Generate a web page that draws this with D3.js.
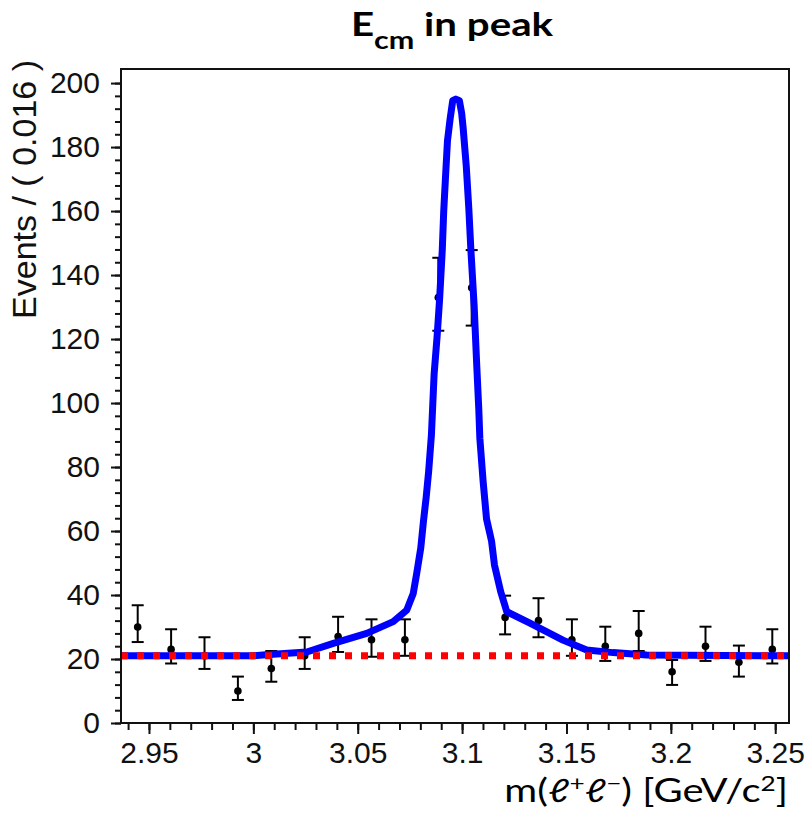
<!DOCTYPE html>
<html>
<head>
<meta charset="utf-8">
<script src="https://cdn.jsdelivr.net/npm/d3@7"></script>
<style>
  body { margin: 0; background: #fff; }
  .axis text { font-family: "Liberation Sans", Arial, sans-serif; font-size: 30px; fill: #111; }
  .axis line { stroke: #111; stroke-width: 2; }
  .axis path { display: none; }
</style>
</head>
<body>
<svg id="chart"></svg>
<script>
// binned data (bin width 0.016 GeV)
const binCenters = [2.9446, 2.9606, 2.9766, 2.9926, 3.0086, 3.0246, 3.0406, 3.0566, 3.0726, 3.0886,
                    3.1046, 3.1206, 3.1366, 3.1526, 3.1686, 3.1846, 3.2006, 3.2166, 3.2326, 3.2486];
const counts   = [30, 23, 21, 10, 17, 21, 27, 26, 26, 133, 136, 33, 32, 26, 24, 28, 16, 24, 19, 23];
const barLow   = [25.3, 18.6, 16.9, 7.2, 12.9, 16.9, 22.2, 20.7, 21.0, 122.6,
                  124.2, 27.7, 26.8, 21.0, 19.4, 22.5, 11.9, 19.4, 14.5, 18.6];
const barHigh  = [36.8, 29.3, 26.8, 14.5, 22.5, 26.8, 33.2, 32.4, 32.4, 145.4,
                  147.8, 39.8, 39.0, 32.4, 30.1, 35.0, 19.7, 30.1, 24.2, 29.3];

// total fit curve (signal + background)
const curveMass = [2.9366, 3.0000, 3.0060, 3.0256, 3.0383, 3.0543, 3.0670, 3.0735, 3.0766, 3.0783,
                   3.0802, 3.0815, 3.0828, 3.0840, 3.0853, 3.0866, 3.0880, 3.0892, 3.0905, 3.0912,
                   3.0920, 3.0930, 3.0943, 3.0955, 3.0970, 3.0987, 3.0998, 3.1005, 3.1020, 3.1032,
                   3.1042, 3.1058, 3.1070, 3.1080, 3.1085, 3.1101, 3.1117, 3.1141, 3.1155, 3.1185,
                   3.1214, 3.1325, 3.1483, 3.1597, 3.1723, 3.1884, 3.2566];
const curveEvents = [21.0, 21.0, 21.3, 22.2, 24.9, 28.0, 31.7, 35.3, 40.5, 46.9,
                     54.7, 63.1, 70.6, 78.8, 90.0, 109.1, 120.6, 132.2, 147.8, 160.0,
                     170.0, 182.0, 189.0, 194.5, 195.0, 194.5, 190.5, 186.0, 174.0, 161.0,
                     148.0, 130.0, 112.0, 98.0, 89.0, 75.3, 63.8, 56.9, 49.4, 41.0,
                     34.8, 31.2, 25.9, 22.8, 22.0, 21.25, 21.0];

// flat background component
const bkgMass = [2.9366, 3.2566];
const bkgEvents = [21.0, 21.0];

const xMajorTicks = [2.95, 3.0, 3.05, 3.1, 3.15, 3.2, 3.25];
const xTickLabels = ["2.95", "3", "3.05", "3.1", "3.15", "3.2", "3.25"];
const yMajorTicks = [0, 20, 40, 60, 80, 100, 120, 140, 160, 180, 200];

const width = 807, height = 826;
const margin = { top: 69, right: 18, bottom: 103, left: 121 };
const innerW = width - margin.left - margin.right;
const innerH = height - margin.top - margin.bottom;

const svg = d3.select("#chart").attr("width", width).attr("height", height);
const chart = svg.append("g").attr("transform", `translate(${margin.left},${margin.top})`);

const x = d3.scaleLinear().domain([2.9366, 3.2566]).range([0, innerW]);
const y = d3.scaleLinear().domain([0, 204.4]).range([innerH, 0]);

// axes: major + minor ticks, outside the frame
chart.append("g").attr("class", "axis")
  .call(d3.axisLeft(y).tickValues(d3.range(0, 204, 4)).tickSize(6).tickFormat(""));
chart.append("g").attr("class", "axis")
  .call(d3.axisLeft(y).tickValues(yMajorTicks).tickSize(10).tickPadding(11).tickFormat(d3.format("d")));

chart.append("g").attr("class", "axis").attr("transform", `translate(0,${innerH})`)
  .call(d3.axisBottom(x).tickValues(d3.range(2.94, 3.257, 0.01)).tickSize(7).tickFormat(""));
chart.append("g").attr("class", "axis").attr("transform", `translate(0,${innerH})`)
  .call(d3.axisBottom(x).tickValues(xMajorTicks).tickSize(11).tickPadding(8)
    .tickFormat((d, i) => xTickLabels[i]));

// data points with error bars
const pts = binCenters.map((m, i) => ({ m, n: counts[i], lo: barLow[i], hi: barHigh[i] }));
const pg = chart.append("g");
pg.selectAll(".err").data(pts).join("line")
  .attr("x1", d => x(d.m)).attr("x2", d => x(d.m))
  .attr("y1", d => y(d.lo)).attr("y2", d => y(d.hi))
  .attr("stroke", "#000").attr("stroke-width", 2);
pg.selectAll(".capTop").data(pts).join("line")
  .attr("x1", d => x(d.m) - 6).attr("x2", d => x(d.m) + 6)
  .attr("y1", d => y(d.hi)).attr("y2", d => y(d.hi))
  .attr("stroke", "#000").attr("stroke-width", 2);
pg.selectAll(".capBot").data(pts).join("line")
  .attr("x1", d => x(d.m) - 6).attr("x2", d => x(d.m) + 6)
  .attr("y1", d => y(d.lo)).attr("y2", d => y(d.lo))
  .attr("stroke", "#000").attr("stroke-width", 2);
pg.selectAll("circle").data(pts).join("circle")
  .attr("cx", d => x(d.m)).attr("cy", d => y(d.n)).attr("r", 3.8).attr("fill", "#000");

// fit curves
const line = d3.line().x(d => x(d[0])).y(d => y(d[1]));
chart.append("path")
  .datum(curveMass.map((m, i) => [m, curveEvents[i]]))
  .attr("d", line)
  .attr("fill", "none").attr("stroke", "#0000ff").attr("stroke-width", 7)
  .attr("stroke-linejoin", "round");
chart.append("path")
  .datum(bkgMass.map((m, i) => [m, bkgEvents[i]]))
  .attr("d", line)
  .attr("fill", "none").attr("stroke", "#ff0000").attr("stroke-width", 7)
  .attr("stroke-dasharray", "7,9");

// frame
chart.append("rect").attr("width", innerW).attr("height", innerH)
  .attr("fill", "none").attr("stroke", "#111").attr("stroke-width", 2);

// y axis title
svg.append("text")
  .attr("transform", "translate(36,60) rotate(-90)")
  .attr("text-anchor", "end")
  .style("font-family", "'Liberation Sans', Arial, sans-serif")
  .style("font-size", "34px")
  .attr("fill", "#111")
  .text("Events / ( 0.016 )");

// title (slide text is wider than Lato, so stretch it a bit)
const title = svg.append("text")
  .attr("transform", "translate(452,36) scale(1.22,1)")
  .attr("text-anchor", "middle")
  .style("font-family", "Lato, 'Noto Sans', sans-serif")
  .style("font-weight", "bold")
  .style("font-size", "33px");
title.append("tspan").text("E");
title.append("tspan").attr("dy", 13).style("font-size", "25px").text("cm");
title.append("tspan").attr("dy", -13).text(" in peak");

// x axis title
const xt = svg.append("text")
  .attr("transform", "translate(788,802) scale(1.25,1)")
  .attr("text-anchor", "end")
  .style("font-family", "Lato, 'Noto Sans', 'DejaVu Sans', sans-serif")
  .style("font-size", "32px");
xt.append("tspan").text("m(ℓ");
xt.append("tspan").attr("dy", -11).style("font-size", "21px").text("+");
xt.append("tspan").attr("dy", 11).text("ℓ");
xt.append("tspan").attr("dy", -11).style("font-size", "21px").text("−");
xt.append("tspan").attr("dy", 11).text(") [GeV/c");
xt.append("tspan").attr("dy", -11).style("font-size", "21px").text("2");
xt.append("tspan").attr("dy", 11).text("]");
</script>
</body>
</html>
